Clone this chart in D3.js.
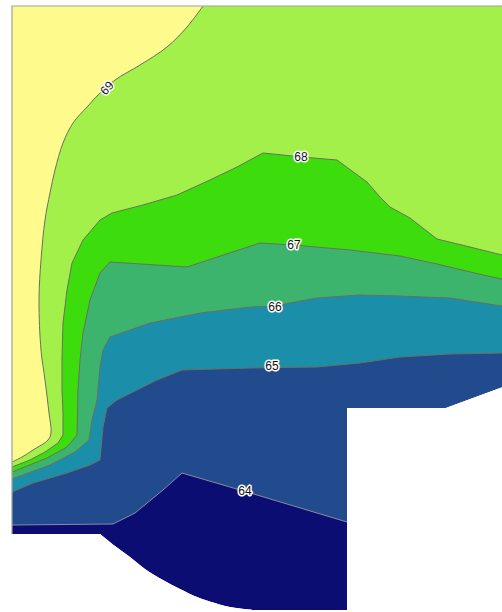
<!DOCTYPE html>
<html>
<head>
<meta charset="utf-8">
<script src="https://cdn.jsdelivr.net/npm/d3@7"></script>
<style>
  html, body { margin: 0; padding: 0; background: #fff; }
  svg { display: block; }
</style>
</head>
<body>
<svg id="chart" width="502" height="612"></svg>
<script>
// ---- data (x, y in map units) ----
const xExtent = [0, 98];
const yExtent = [0, 120.8];

const levels = [64, 65, 66, 67, 68, 69];
const bandColors = ["#0b0d72", "#224b8d", "#1b8fa9", "#3db46e", "#3ddc0c", "#a3f04b", "#fffa8c"];

// domain (mask) outline: straight part, then curved arc
const domainTop = [[0, 15.2], [0, 120.8], [98, 120.8], [98, 44.6], [86.6, 40.4], [67, 40.4], [67, 0], [48.2, 0]];
const domainArc = [[48.2, 0], [43.6, 0.6], [40.6, 1.4], [37, 2.6], [33.6, 4.2], [30.2, 6],
  [26.6, 8.2], [23.6, 10.6], [20.6, 12.8], [17.6, 15.2]];

const iso64 = [[67, 17.6], [47, 23.6], [34, 27.4], [30.2, 24], [24.6, 19.4], [20.2, 17.2], [0, 17]];
const iso65 = [[98, 51.4], [87.6, 51.2], [77.6, 50.6], [69.6, 49.4], [61, 48.6], [47.6, 48.4], [34, 48],
  [29, 46], [24.2, 43.6], [21, 42], [19, 40.4], [18.2, 36.6], [17.6, 30], [15.6, 29], [11, 27.4],
  [4.2, 25.4], [0, 23.6]];
const iso66 = [[98, 60.8], [87.6, 62.4], [77.6, 62.8], [69.6, 63], [61, 62.4], [52.2, 60.8], [47.6, 60.6],
  [37.6, 59.4], [27.6, 57.4], [19.6, 54.6], [18.2, 52], [17.6, 48.6], [17, 42], [16, 38], [15.4, 34],
  [12.6, 31.6], [7.6, 29], [0, 26.2]];
const iso67 = [[98, 66.2], [94.2, 67], [85, 69.2], [77.6, 70.8], [67.6, 72], [56.2, 73], [49.6, 73.4],
  [35, 68.6], [19.6, 69.6], [17.6, 67.4], [15.6, 62], [14.2, 55.4], [13.6, 50], [13.2, 44], [13, 35],
  [11, 32.6], [7, 30.4], [0, 27.6]];
const iso68 = [[98, 71], [91.6, 72.6], [85, 74.2], [79.6, 78.4], [75.6, 80.6], [73.6, 82.6], [71, 85.6],
  [65, 90], [58, 90.6], [50.2, 91.4], [45, 88.6], [39.6, 86], [33, 83], [26.2, 81], [20, 79.4],
  [17.6, 78], [14.2, 74], [12, 69.4], [11, 64], [10.2, 57.4], [10, 50.6], [10, 44], [10.2, 39.4],
  [10.2, 35], [9.2, 33.4], [6.6, 31.6], [3.6, 30], [0, 28.6]];
const iso69 = [[38.2, 120.8], [35, 116.6], [31, 112.6], [25.6, 109], [20.6, 106], [17.6, 103.4], [15, 100.6],
  [12.2, 97.4], [10.2, 93.4], [8.6, 88], [7.6, 83.4], [6.6, 78], [5.8, 70], [5.4, 62], [5.8, 52],
  [6.6, 46], [7.4, 39.4], [7.8, 35.4], [7.2, 34], [4.2, 32], [2, 30.6], [0, 29.6]];

const isolines = [iso64, iso65, iso66, iso67, iso68, iso69];
const smoothIso = [false, false, false, false, false, true];

// label positions [x, y, angle]
const labelPos = [[46.6, 23.8, 0], [52, 48.8, 0], [52.6, 60.6, 0], [56.4, 73, 0], [57.8, 90.6, 0], [19, 104.4, -48]];

// ---- drawing ----
const svg = d3.select("#chart");
const x = d3.scaleLinear().domain(xExtent).range([12, 502]);
const y = d3.scaleLinear().domain(yExtent).range([610, 6]);

const straight = d3.line().x(d => x(d[0])).y(d => y(d[1]));
const smooth = d3.line().x(d => x(d[0])).y(d => y(d[1])).curve(d3.curveCatmullRom.alpha(0.5));
const lineTo = pts => pts.map(d => `L${x(d[0])},${y(d[1])}`).join("");

const maskD = straight(domainTop) + "L" + smooth(domainArc).slice(1) + "Z";

svg.append("clipPath").attr("id", "mask")
  .append("path").attr("d", maskD);

const g = svg.append("g").attr("clip-path", "url(#mask)");

// base band (below lowest level)
g.append("path").attr("d", maskD).attr("fill", bandColors[0]);

const isoPath = i => (smoothIso[i] ? smooth : straight)(isolines[i]);

// regions >= level
isolines.forEach((iso, i) => {
  const closure = [[xExtent[0], yExtent[1]], [xExtent[1], yExtent[1]], [xExtent[1], iso[0][1]]];
  g.append("path").attr("d", isoPath(i) + lineTo(closure) + "Z").attr("fill", bandColors[i + 1]);
});

// isolines
isolines.forEach((iso, i) => {
  g.append("path").attr("d", isoPath(i))
    .attr("fill", "none")
    .attr("stroke", i === 0 ? "#8a8aa0" : "#6b7060")
    .attr("stroke-width", 1)
    .attr("stroke-linejoin", "round");
});

// frame (top and left)
svg.append("path")
  .attr("d", straight([[xExtent[0], domainTop[0][1]], [xExtent[0], yExtent[1]], [xExtent[1], yExtent[1]]]))
  .attr("fill", "none").attr("stroke", "#a0a0a0").attr("stroke-width", 1.2);

// labels
labelPos.forEach((p, i) => {
  svg.append("text")
    .attr("transform", `translate(${x(p[0])},${y(p[1])}) rotate(${p[2]})`)
    .attr("text-anchor", "middle")
    .attr("dominant-baseline", "central")
    .attr("font-family", "Liberation Sans, Arial, sans-serif")
    .attr("font-size", 12)
    .attr("fill", "#111")
    .attr("stroke", "#fff")
    .attr("stroke-width", 3)
    .attr("stroke-linejoin", "round")
    .attr("paint-order", "stroke")
    .text(levels[i]);
});
</script>
</body>
</html>
